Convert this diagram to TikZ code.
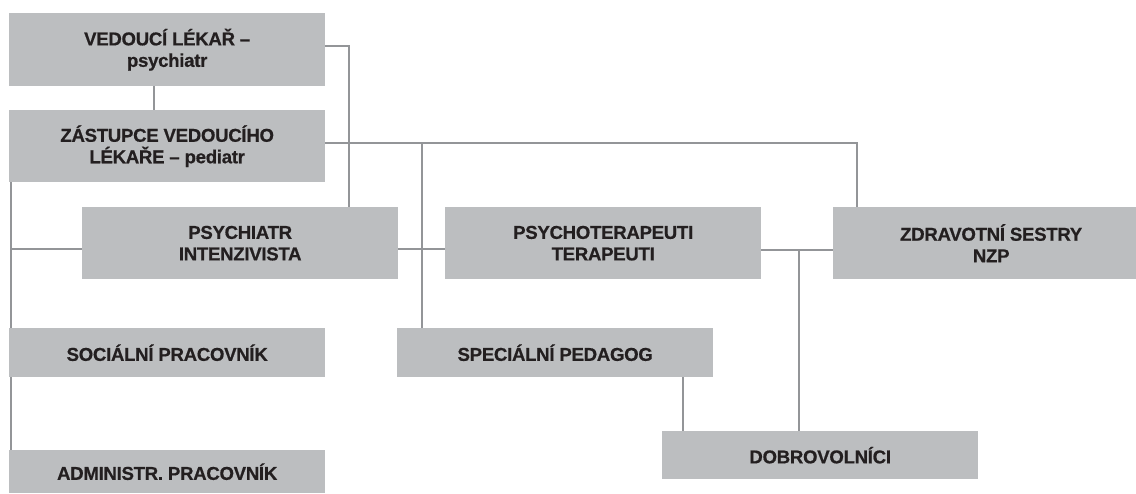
\documentclass[tikz,border=0pt]{standalone}
\usepackage{fontspec}
\setmainfont{Liberation Sans}[BoldFeatures={FakeBold=0.6, LetterSpace=-1.5}]
\definecolor{boxgray}{HTML}{BCBEC0}
\definecolor{linegray}{HTML}{939598}
\definecolor{txtcol}{HTML}{231F20}
\begin{document}
\begin{tikzpicture}[x=1pt,y=-1pt,
  box/.style={fill=boxgray, anchor=north west, inner sep=0pt, minimum width=316pt,
    align=center, text=txtcol, font=\bfseries\fontsize{18.6}{21.5}\selectfont},
  tall/.style={minimum height=72pt},
  flat/.style={minimum height=49pt},
  conn/.style={draw=linegray, line width=1.4pt}]
\useasboundingbox (0,0) rectangle (1136,493);
\clip (0,0) rectangle (1136,493);
\node[box, minimum height=73pt] (v) at (9,13) {VEDOUCÍ LÉKAŘ –\\psychiatr};
\node[box, tall] (z) at (9,110) {ZÁSTUPCE VEDOUCÍHO\\LÉKAŘE – pediatr};
\node[box, tall] (pi) at (82,207) {PSYCHIATR\\INTENZIVISTA};
\node[box, tall] (ps) at (445,207) {PSYCHOTERAPEUTI\\TERAPEUTI};
\node[box, tall] (zs) at (833,207) {ZDRAVOTNÍ SESTRY\\NZP};
\node[box, flat] (soc) at (9,328) {SOCIÁLNÍ PRACOVNÍK};
\node[box, flat] (sp) at (397,328) {SPECIÁLNÍ PEDAGOG};
\node[box, minimum height=43pt] (adm) at (9,450) {ADMINISTR. PRACOVNÍK};
\node[box, minimum height=48pt] (dob) at (662,431) {DOBROVOLNÍCI};
% junction coordinates
\coordinate (j1) at (349,46);
\coordinate (j2) at (857,143);
\coordinate (j3) at (422,143);
\coordinate (jl) at (11,249);
\coordinate (jm) at (154,0);
\coordinate (jr) at (799,250);
\coordinate (js) at (683,0);
% connectors
\draw[conn] (v.south -| jm) -- (z.north -| jm);
\draw[conn] (v.east |- j1) -- (j1) -- (j1 |- pi.north);
\draw[conn] (z.east |- j2) -- (j2) -- (j2 |- zs.north);
\draw[conn] (j3) -- (j3 |- sp.north);
\draw[conn] (z.south -| jl) -- (soc.north -| jl);
\draw[conn] (soc.south -| jl) -- (adm.north -| jl);
\draw[conn] (jl) -- (pi.west |- jl);
\draw[conn] (pi.east |- jl) -- (ps.west |- jl);
\draw[conn] (ps.east |- jr) -- (zs.west |- jr);
\draw[conn] (jr) -- (jr |- dob.north);
\draw[conn] (sp.south -| js) -- (dob.north -| js);
\end{tikzpicture}
\end{document}
